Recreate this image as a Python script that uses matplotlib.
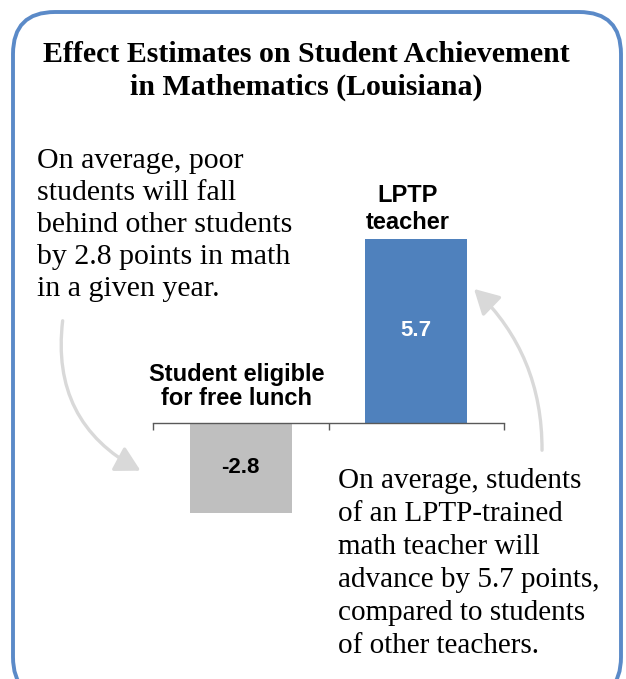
import matplotlib
matplotlib.use("Agg")
import matplotlib.pyplot as plt
from matplotlib.patches import FancyBboxPatch, FancyArrowPatch
from matplotlib.transforms import IdentityTransform

# data
categories = ["Student eligible\nfor free lunch", "LPTP\nteacher"]
values = [-2.8, 5.7]
value_labels = ["-2.8", "5.7"]
bar_colors = ["#bfbfbf", "#4f81bd"]
label_colors = ["black", "white"]

title_lines = ["Effect Estimates on Student Achievement", "in Mathematics (Louisiana)"]
left_note = ["On average, poor", "students will fall", "behind other students",
             "by 2.8 points in math", "in a given year."]
right_note = ["On average, students", "of an LPTP-trained", "math teacher will",
              "advance by 5.7 points,", "compared to students", "of other teachers."]

W, H = 626, 679
fig = plt.figure(figsize=(W / 100, H / 100), dpi=100)
fig.patch.set_facecolor("white")

def fx(x):
    return x / W

def fy(y):
    return 1 - y / H

serif = "Liberation Serif"
sans = "Liberation Sans"

# rounded frame (pixel coords, y from bottom)
frame = FancyBboxPatch((13, -20), 608, H - 12 + 20,
                       boxstyle="round,pad=0,rounding_size=42",
                       transform=IdentityTransform(), fill=False,
                       edgecolor="#5b8ac8", linewidth=2.8)
fig.patches.append(frame)

# title
for i, line in enumerate(title_lines):
    fig.text(fx(306), fy(62 + 33 * i), line, ha="center", va="baseline",
             fontsize=21.5, fontweight="bold", family=serif)

# axes
ax = fig.add_axes([fx(153), fy(513), fx(504) - fx(153), fy(239) - fy(513)])
ax.set_xlim(-0.5, 1.5)
ax.set_ylim(min(values), max(values))
x = list(range(len(values)))
bars = ax.bar(x, values, width=0.58, color=bar_colors, clip_on=False, zorder=1)
ax.patch.set_alpha(0)
for s in ["top", "left", "right"]:
    ax.spines[s].set_visible(False)
ax.spines["bottom"].set_position(("data", 0))
ax.spines["bottom"].set_color("#595959")
ax.spines["bottom"].set_linewidth(1)
ax.spines["bottom"].set_zorder(3)
ax.set_xticks([-0.5, 0.5, 1.5])
ax.set_xticklabels([])
ax.tick_params(axis="x", direction="out", length=5, color="#595959", width=1)
ax.set_yticks([])

for i, v in enumerate(values):
    ax.text(i, v / 2, value_labels[i], ha="center", va="center", color=label_colors[i],
            fontsize=16, fontweight="bold", family=sans)

# category labels above bars
cat_offsets = [([42, 18], -4), ([37, 10], -9)]
for i, cat in enumerate(categories):
    lines = cat.split("\n")
    dys, dx = cat_offsets[i]
    for line, dy in zip(lines, dys):
        ax.annotate(line, xy=(i, max(values[i], 0)), xytext=(dx, dy),
                    textcoords="offset pixels", ha="center", va="baseline",
                    fontsize=17, fontweight="bold", family=sans, annotation_clip=False)

# notes
for i, line in enumerate(left_note):
    fig.text(fx(37), fy(168 + 32 * i), line, ha="left", va="baseline",
             fontsize=21.5, family=serif)
for i, line in enumerate(right_note):
    fig.text(fx(338), fy(488 + 33 * i), line, ha="left", va="baseline",
             fontsize=21, family=serif)

# curved arrows
arrow_kw = dict(arrowstyle="-|>,head_length=1.0,head_width=0.55", mutation_scale=15,
                color="#d9d9d9", linewidth=2.4, transform=fig.transFigure)
fig.patches.append(FancyArrowPatch((fx(63), fy(318)), (fx(143), fy(472)),
                                   connectionstyle="arc3,rad=0.35", **arrow_kw))
fig.patches.append(FancyArrowPatch((fx(542), fy(453)), (fx(472), fy(287)),
                                   connectionstyle="arc3,rad=0.22", **arrow_kw))

fig.savefig("out.png", dpi=100)
